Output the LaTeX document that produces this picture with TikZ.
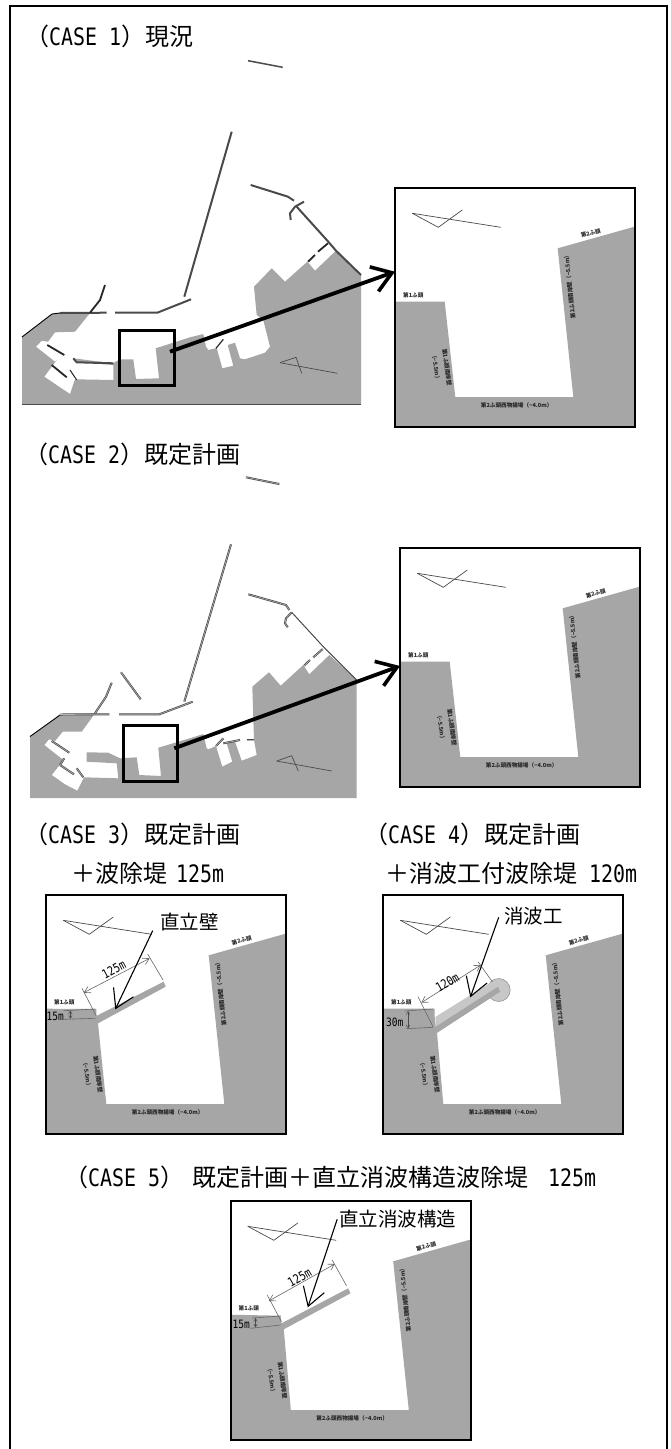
\documentclass[tikz,border=0pt]{standalone}
\usepackage{fontspec}
\usetikzlibrary{arrows.meta}
\setmainfont{Noto Sans CJK JP}
\newfontfamily\cjk{Noto Sans CJK JP}
\newfontfamily\lat[FakeStretch=0.83]{DejaVu Sans Mono}
\definecolor{land}{HTML}{A6A6A6}
\definecolor{wall}{HTML}{4A4A4A}
\newcommand\szcap{\fontsize{24}{24}\selectfont}
\newcommand\sznote{\fontsize{19.5}{20}\selectfont}
\newcommand\szdim{\fontsize{12.5}{13}\selectfont}
\newcommand\sztiny{\fontsize{5.6}{6}\selectfont}
\tikzset{
  landfill/.style={fill=land,draw=none},
  captext/.style={inner sep=0pt,anchor=base west,font=\szcap},
  notetext/.style={inner sep=0pt,font=\sznote\cjk},
  dimtext/.style={inner sep=0pt,font=\szdim\lat},
  tinytext/.style={inner sep=0pt,font=\sztiny\cjk\bfseries,text=black!85},
  frameline/.style={draw=black,line width=2pt},
  seawall/.style={draw=wall,line width=2pt},
  seadouble/.style={draw=wall,line width=0.7pt,double=black!30,double distance=0.6pt},
  darkpier/.style={draw=black!85,line width=1.8pt},
  thinline/.style={draw=wall,line width=0.7pt},
  locator/.style={draw=black,line width=3pt},
  bigarrow/.style={draw=black,line width=3.8pt,-{Straight Barb[length=19pt,width=26pt,line width=3.6pt]}},
  notearrow/.style={draw=black,line width=1.1pt,-{Straight Barb[length=18pt,width=22pt,line width=1.1pt]}},
  dimline/.style={draw=black!60,line width=0.6pt},
  dimarrow/.style={draw=black!60,line width=0.6pt,{Straight Barb[length=6pt,width=7pt]}-{Straight Barb[length=6pt,width=7pt]}},
  dimsmall/.style={draw=black!70,line width=0.5pt,{Straight Barb[length=3pt,width=3.5pt]}-{Straight Barb[length=3pt,width=3.5pt]}},
}
% #1 = vertices of the land edge between the first quay corner and the basin wall
\newcommand\insetbase[1]{%
  \fill[white] (0,0) rectangle (240,239);
  \fill[landfill] (0.3,238)--(0.3,113.7)#1--(60.3,209)--(178.3,209)--(162.7,60.3)--(239.5,38.7)--(239.5,238)--cycle;
}
\newcommand\insetdetail{%
  \draw[thinline] (17.3,25.3)--(43.3,39.3)--(67.3,22);
  \draw[thinline] (17.3,25.3)--(105.7,39.3);
  \node[tinytext] (quayone) at (18.3,107) {第1ふ頭};
  \node[tinytext,rotate=15] (quaytwo) at (195.7,45.3) {第2ふ頭};
  \node[tinytext] (quaywest) at (121.7,217) {第2ふ頭西物揚場（−4.0m）};
  \node[tinytext,rotate=96] (quayeast) at (174.7,97.7) {第2ふ頭南岸壁（−5.5m）};
  \node[tinytext,rotate=-82] (quaysouth) at (52,179.3) {第1ふ頭南岸壁};
  \node[tinytext,rotate=-82] (quaydepth) at (41,179.3) {（−5.5m）};
  \draw[frameline] (0,0) rectangle (240,239);
}
\begin{document}
\begin{tikzpicture}[x=1pt,y=-1pt]
\useasboundingbox (0,0) rectangle (670,1449);
\fill[white] (0,0) rectangle (670,1449);
\draw[draw=black,line width=2pt] (10,1449)--(10,6)--(666.5,6)--(666.5,1449);

% ---------- captions
\node[captext] (t1) at (25,45) {{\cjk （}{\lat CASE 1}{\cjk ）現況}};
\node[captext] (t2) at (24,463) {{\cjk （}{\lat CASE 2}{\cjk ）既定計画}};
\node[captext] (t3a) at (24,843) {{\cjk （}{\lat CASE 3}{\cjk ）既定計画}};
\node[captext] (t3b) at (71,882) {{\cjk ＋波除堤}\hspace{9pt}{\lat 125m}};
\node[captext] (t4a) at (364,843) {{\cjk （}{\lat CASE 4}{\cjk ）既定計画}};
\node[captext] (t4b) at (385,882) {{\cjk ＋消波工付波除堤}\hspace{12pt}{\lat 120m}};
\node[captext] (t5) at (64,1186) {{\cjk （}{\lat CASE 5}{\cjk ）}\hspace{8pt}{\cjk 既定計画＋直立消波構造波除堤}\hspace{20pt}{\lat 125m}};

% ---------- CASE 1 map
\fill[landfill] (22,404)--(22,337)--(52,314)--(60,313)--(90,313)--(75,331.7)--(55,332.3)--(48,341.7)--(41.7,340.7)--(36,346.7)--(55,361.7)--(56.7,360)--(44.3,376.7)--(70,394)--(75,379.3)--(113.3,380)--(113.3,365)--(76.7,361.7)--(73.3,358.3)--(113,363.3)--(120,359.3)--(133.3,359.3)--(136,379)--(159,378.3)--(155.7,348.3)--(190,337.3)--(203.3,334)--(206,346.7)--(208.3,350)--(216.7,348)--(222.3,368.3)--(233.3,365.7)--(227.7,345)--(235,342.7)--(240,358.3)--(245,359.3)--(265,352.7)--(270,346.7)--(263.3,320)--(256.7,315)--(254,286.7)--(271.7,268.3)--(285,281.7)--(307.3,261.7)--(315,270.7)--(336,250.7)--(361,275)--(361,404)--cycle;
\draw[thinline,line width=1pt] (22,404)--(361,404);
\draw[draw=black,line width=0.9pt] (22,337)--(52,314)--(60,313);
\draw[seawall,line width=1.5pt] (248,60.7)--(282.7,67.3);
\draw[seawall] (231.7,131.7)--(184.3,296.7);
\draw[seawall] (191,299.3)--(157.3,312.7)--(115,312.7);
\draw[seawall] (106.7,312.7)--(60,313);
\draw[darkpier] (105,285)--(100,300)--(90,312.7);
\draw[seawall] (250.7,185)--(288,196.7)--(294,200.7);
\draw[seawall] (304,201.7)--(295,206.7)--(290,213.3)--(290.7,220);
\draw[seawall] (296.7,206.7)--(328.3,241.7)--(336,250.7)--(361,275);
\draw[darkpier] (328,243.3)--(318,251.7);
\draw[darkpier] (315,255)--(308,261.7);
\draw[darkpier] (47.3,345)--(64.3,355);
\draw[darkpier] (51.7,365)--(66.7,377.3);
\draw[seawall] (73.3,358.3)--(76.7,362.3)--(113.3,363.3);
\draw[darkpier,line width=1pt] (70,370)--(76.7,380);
\draw[darkpier,line width=1.2pt] (216,348.3)--(223.3,339.3);
\draw[thinline] (280,362.7)--(296,357.3)--(301.7,373.3);
\draw[thinline] (280,362.7)--(337.3,373.3);
\draw[locator] (119.3,330) rectangle (174,385.7);
\coordinate (a1s) at (170,351.7);

% ---------- CASE 1 inset
\begin{scope}[shift={(395,188)},name prefix=c1-]
\insetbase{--(49.7,113.7)}
\insetdetail
\coordinate (in) at (0,83.7);
\end{scope}
\draw[bigarrow] (a1s)--(c1-in);

% ---------- CASE 2 map
\fill[landfill] (30,798)--(30,736.5)--(60,715)--(95,713.3)--(81.7,731.7)--(62.7,731.7)--(55,741)--(49,739.3)--(44.3,745)--(63.3,760)--(65,758.3)--(51.7,775)--(65,784.3)--(77.3,790.7)--(84,777.3)--(118.3,778.3)--(116.7,763.3)--(86.7,761.7)--(86.7,752.3)--(108.3,752.7)--(120,758.3)--(136.7,757.3)--(139.3,775)--(161,776)--(158.3,747.7)--(195,736.7)--(203.3,734)--(206.7,748.3)--(208.3,749.3)--(216,746)--(222.3,766.7)--(232.3,761.7)--(226.7,743.3)--(235,741.7)--(241.7,760.7)--(256.7,755)--(254,740)--(252.3,686.7)--(269,672.3)--(280.7,685.7)--(303.3,665)--(309.3,674.3)--(329.3,655)--(356.7,680)--(356.7,798)--cycle;
\draw[draw=black,line width=0.9pt] (30,736.5)--(60,715);
\draw[seadouble] (246,477.3)--(279.3,484);
\draw[seadouble] (231,544.3)--(184.3,701.7);
\draw[seadouble] (192.7,701.7)--(159.3,714.3)--(119,714.3);
\draw[seadouble] (109.3,714.3)--(60,714.5);
\draw[seadouble] (111.7,682.7)--(106,696.7)--(95,713.3);
\draw[seadouble] (121,672.3)--(140.7,699.3);
\draw[seadouble] (248.3,594.3)--(286,605)--(289.3,610);
\draw[seadouble] (291.7,612.3)--(286,618.3)--(285,623.3)--(287.7,627.3);
\draw[thinline,line width=1pt] (291.7,612.3)--(323.3,646.7)--(356.7,680);
\draw[seadouble] (322.7,649)--(313.3,657.3);
\draw[seadouble] (310,660)--(304,665.7);
\draw[seadouble] (51.7,741)--(69.3,752.7);
\draw[seadouble] (60,765)--(74,774.3);
\draw[seadouble] (64.3,758.3)--(60,765);
\draw[seadouble] (76.7,768.3)--(83.3,777.3);
\draw[seadouble] (216,746)--(223.3,738.3);
\draw[seadouble] (223.3,743.3)--(240,740);
\draw[seadouble] (246.7,740)--(254,740);
\draw[thinline] (276.7,761)--(291.7,755.7)--(298.3,771);
\draw[thinline] (276.7,761)--(331.7,771);
\draw[locator] (123.3,725) rectangle (177.7,781.7);
\coordinate (a2s) at (174.3,748.3);

% ---------- CASE 2 inset
\begin{scope}[shift={(400,548)},name prefix=c2-]
\insetbase{--(49.7,113.7)}
\insetdetail
\coordinate (in) at (0,118);
\end{scope}
\draw[bigarrow] (a2s)--(c2-in);

% ---------- CASE 3 inset
\begin{scope}[shift={(46,895)},name prefix=c3-]
\insetbase{--(50.3,114)--(50.3,121)--(117.7,86.7)--(119.7,91.7)--(52,128.3)}
\insetdetail
\coordinate (d1) at (37.7,97.7); \coordinate (d2) at (103.7,63.3);
\coordinate (e1) at (36,93.3); \coordinate (e2) at (50.3,121);
\coordinate (e3) at (101.7,59); \coordinate (e4) at (117,85);
\draw[dimline] (e1)--(e2); \draw[dimline] (e3)--(e4);
\draw[dimarrow] (d1)--(d2);
\node[dimtext,rotate=28] (len) at (67.7,74.3) {125m};
\node[notetext] (lab) at (143.3,26.7) {直立壁};
\coordinate (n1) at (106.7,35.7); \coordinate (n2) at (69.3,114.3);
\draw[notearrow] (n1)--(n2);
\coordinate (w1) at (17.7,115.7); \coordinate (w2) at (49.3,114);
\coordinate (w3) at (17.7,124.3); \coordinate (w4) at (49.3,123.3);
\draw[dimline] (w1)--(w2); \draw[dimline] (w3)--(w4);
\coordinate (w5) at (24.3,115.5); \coordinate (w6) at (24.3,124);
\draw[dimsmall] (w5)--(w6);
\node[dimtext,font=\fontsize{11.5}{12}\selectfont\lat] (wid) at (9.3,121.7) {15m};
\end{scope}

% ---------- CASE 4 inset
\begin{scope}[shift={(383,895)},name prefix=c4-]
\insetbase{--(51.7,113.7)--(51.7,121.7)--(52.7,131.7)--(115,91.7)--(117,96.7)--(54,137.7)}
\fill[black!22,draw=black!45,line width=0.5pt] (115.7,95) circle (11.5);
\fill[black!22] (52.7,121.7)--(111.7,85)--(115,91.7)--(52.7,131.7)--cycle;
\fill[land] (52.7,131.7)--(115,91.7)--(117,96.7)--(54,137.7)--cycle;
\insetdetail
\coordinate (d1) at (38.3,107.7); \coordinate (d2) at (97.7,70);
\coordinate (e1) at (35,101.7); \coordinate (e2) at (50,131.7);
\coordinate (e3) at (95,66.7); \coordinate (e4) at (109.3,86.7);
\draw[dimline] (e1)--(e2); \draw[dimline] (e3)--(e4);
\draw[dimarrow] (d1)--(d2);
\node[dimtext,rotate=30] (len) at (64.3,87.7) {120m};
\node[notetext] (lab) at (150.7,21) {消波工};
\coordinate (n1) at (115.7,22.3); \coordinate (n2) at (87.3,102.3);
\draw[notearrow] (n1)--(n2);
\coordinate (w1) at (21.7,116); \coordinate (w2) at (50,114);
\coordinate (w3) at (23.3,133.7); \coordinate (w4) at (50,132.3);
\draw[dimline] (w1)--(w2); \draw[dimline] (w3)--(w4);
\coordinate (w5) at (25,116); \coordinate (w6) at (25,133.5);
\draw[dimsmall] (w5)--(w6);
\node[dimtext,font=\fontsize{11.5}{12}\selectfont\lat] (wid) at (11.7,127.7) {30m};
\end{scope}

% ---------- CASE 5
\begin{scope}[shift={(230.5,1201)},name prefix=c5-]
\insetbase{--(50,114.7)--(51,122.3)--(117.7,87.3)--(120,92.3)--(53.3,128.3)}
\insetdetail
\coordinate (d1) at (38.3,100); \coordinate (d2) at (104.3,63);
\coordinate (e1) at (36.7,94); \coordinate (e2) at (51,120.7);
\coordinate (e3) at (101.7,59); \coordinate (e4) at (116,84.7);
\draw[dimline] (e1)--(e2); \draw[dimline] (e3)--(e4);
\draw[dimarrow] (d1)--(d2);
\node[dimtext,rotate=30] (len) at (69,76.7) {125m};
\node[notetext] (lab) at (167.3,18.3) {直立消波構造};
\coordinate (n1) at (106.7,18.3); \coordinate (n2) at (77.3,106.3);
\draw[notearrow] (n1)--(n2);
\coordinate (w1) at (21.7,117); \coordinate (w2) at (50,115);
\coordinate (w3) at (20,127.3); \coordinate (w4) at (50,124);
\draw[dimline] (w1)--(w2); \draw[dimline] (w3)--(w4);
\coordinate (w5) at (25,117); \coordinate (w6) at (25,126.5);
\draw[dimsmall] (w5)--(w6);
\node[dimtext,font=\fontsize{11.5}{12}\selectfont\lat] (wid) at (10.7,123) {15m};
\end{scope}
\end{tikzpicture}
\end{document}
